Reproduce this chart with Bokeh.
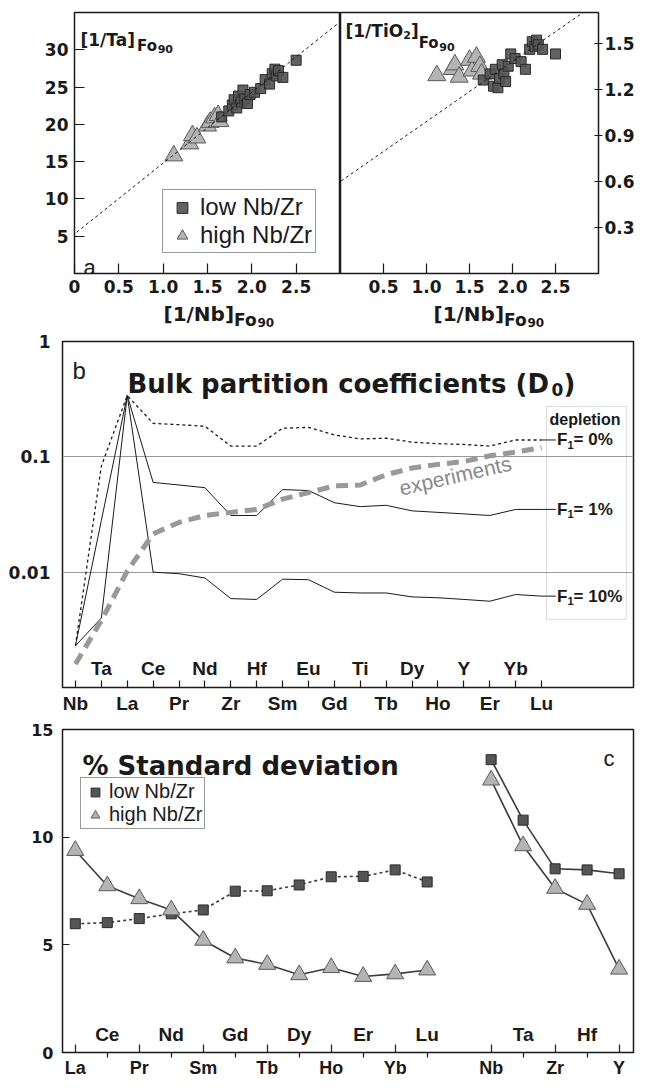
from bokeh.plotting import figure
from bokeh.models import (Range1d, FixedTicker, Label, Legend, LegendItem, Slope,
                          BoxAnnotation)
from bokeh.layouts import column, row
from bokeh.embed import file_html
from bokeh.resources import INLINE
from bokeh.core.properties import value

# ---------------- data ----------------
# Panel a : olivine Fo90-normalised inverse concentrations
high_inv_nb = [1.12, 1.30, 1.33, 1.38, 1.50, 1.53, 1.58, 1.62, 1.64]
high_inv_ta = [15.8, 17.4, 18.5, 18.2, 19.8, 20.3, 20.9, 21.2, 20.4]
high_inv_tio2 = [1.29, 1.33, 1.36, 1.28, 1.39, 1.32, 1.41, 1.35, 1.30]

low_inv_nb = [1.66, 1.74, 1.78, 1.80, 1.83, 1.85, 1.88, 1.90, 1.92, 1.95, 1.98,
              2.03, 2.10, 2.15, 2.20, 2.23, 2.26, 2.28, 2.30, 2.35, 2.50]
low_inv_ta = [21.0, 21.8, 22.6, 23.3, 22.2, 23.8, 23.0, 24.6, 23.4, 22.8, 24.0,
              24.3, 24.8, 26.0, 25.4, 26.8, 27.4, 26.5, 27.2, 26.3, 28.6]
low_inv_tio2 = [1.26, 1.30, 1.22, 1.33, 1.21, 1.27, 1.36, 1.30, 1.25, 1.35, 1.43,
                1.40, 1.38, 1.33, 1.46, 1.51, 1.48, 1.52, 1.49, 1.46, 1.43]

ta_line_intercept, ta_line_slope = 5.3, 9.5
tio2_line_intercept, tio2_line_slope = 0.60, 0.39

a_xticks = [0, 0.5, 1.0, 1.5, 2.0, 2.5]
a_xtick_labels = ["0", "0.5", "1.0", "1.5", "2.0", "2.5"]
a1_yticks = [5, 10, 15, 20, 25, 30]
a2_yticks = [0.3, 0.6, 0.9, 1.2, 1.5]

# Panel b : bulk partition coefficients
b_elements = ["Nb", "Ta", "La", "Ce", "Pr", "Nd", "Zr", "Hf", "Sm", "Eu", "Gd",
              "Ti", "Tb", "Dy", "Ho", "Y", "Er", "Yb", "Lu"]
d0_f0 = [0.0023, 0.083, 0.34, 0.195, 0.19, 0.184, 0.124, 0.124, 0.177, 0.18, 0.155,
         0.143, 0.145, 0.134, 0.13, 0.128, 0.124, 0.14, 0.14]
d0_f1 = [0.0023, 0.028, 0.34, 0.060, 0.057, 0.054, 0.031, 0.031, 0.052, 0.051, 0.040,
         0.037, 0.038, 0.034, 0.033, 0.032, 0.031, 0.035, 0.035]
d0_f10 = [0.0023, 0.004, 0.34, 0.010, 0.0097, 0.0089, 0.0059, 0.0058, 0.0087, 0.0086,
          0.0067, 0.0066, 0.0066, 0.0061, 0.0060, 0.0058, 0.0056, 0.0064, 0.0062]
d0_exp = [0.0016, 0.0038, 0.0102, 0.0215, 0.027, 0.031, 0.033, 0.035, 0.043, 0.049,
          0.056, 0.057, 0.070, 0.080, 0.086, 0.091, 0.102, 0.11, 0.12]
b_curve_labels = [("0%", d0_f0), ("1%", d0_f1), ("10%", d0_f10)]
b_yticks = [0.01, 0.1, 1.0]
b_ytick_labels = ["0.01", "0.1", "1"]

# Panel c : % standard deviation
c_ree = ["La", "Ce", "Pr", "Nd", "Sm", "Gd", "Tb", "Dy", "Ho", "Er", "Yb", "Lu"]
c_hfse = ["Nb", "Ta", "Zr", "Hf", "Y"]
sd_low_ree = [5.98, 6.03, 6.22, 6.44, 6.62, 7.49, 7.51, 7.78, 8.16, 8.18, 8.48, 7.92]
sd_high_ree = [9.38, 7.74, 7.14, 6.62, 5.21, 4.39, 4.09, 3.61, 3.94, 3.53, 3.65, 3.83]
sd_low_hfse = [13.6, 10.79, 8.53, 8.48, 8.30]
sd_high_hfse = [12.65, 9.60, 7.62, 6.88, 3.87]
c_yticks = [0, 5, 10, 15]

# ---------------- styling helpers ----------------
BOLD = "DejaVu Sans"
HELV = "Liberation Sans"
INK = "#1a1a1a"
SQ_FILL, SQ_LINE = "#555555", "#2a2a2a"
TR_FILL, TR_LINE = "#b4b4b4", "#5a5a5a"


def base_style(p):
    p.outline_line_color = INK
    p.outline_line_width = 1.5
    p.background_fill_color = "white"
    p.border_fill_color = "white"
    p.xgrid.visible = False
    p.ygrid.visible = False
    for ax in p.axis:
        ax.axis_line_color = None
        ax.major_tick_line_color = INK
        ax.minor_tick_line_color = INK
        ax.major_tick_line_width = 1.2
        ax.minor_tick_line_width = 1.2
        ax.major_label_text_color = INK
        ax.major_label_text_font_style = "bold"


def add_text(p, text, x, y, dx=0, dy=0, size="16px", font=BOLD, style="bold",
             color=INK, align="left", baseline="alphabetic", angle=0):
    p.add_layout(Label(x=x, y=y, x_offset=dx, y_offset=dy, text=text,
                       text_font=font, text_font_size=size,
                       text_font_style=style, text_color=color,
                       text_align=align, text_baseline=baseline, angle=angle))


def fo90_label(p, main, x, y, dx, dy, main_size, main_w, fo_size, nine_size,
               fo_drop=6, nine_drop=10):
    add_text(p, main, x, y, dx, dy, size=f"{main_size}px")
    add_text(p, "Fo", x, y, dx + main_w, dy - fo_drop, size=f"{fo_size}px")
    add_text(p, "90", x, y, dx + main_w + 1.37 * fo_size, dy - nine_drop,
             size=f"{nine_size}px")


A_TOP, A_FRAME, A_BOT = 12, 261, 27
A_H = A_TOP + A_FRAME + A_BOT

# ---------------- panel a (left) ----------------
pa1 = figure(width=340, height=A_H, x_range=Range1d(0, 3), y_range=Range1d(0, 35),
             output_backend="svg", toolbar_location=None,
             min_border_left=74, min_border_right=0, min_border_top=A_TOP,
             min_border_bottom=A_BOT)
base_style(pa1)
pa1.xaxis.ticker = FixedTicker(ticks=a_xticks, minor_ticks=[])
pa1.xaxis.major_label_overrides = dict(zip(a_xticks, a_xtick_labels))
pa1.yaxis.ticker = FixedTicker(ticks=a1_yticks, minor_ticks=[])
for ax in pa1.axis:
    ax.major_tick_in = 10
    ax.major_tick_out = 0
    ax.major_label_text_font = BOLD
    ax.major_label_text_font_size = "17px"
pa1.xaxis.major_label_standoff = 6
pa1.yaxis.major_label_standoff = 6

pa1.add_layout(Slope(gradient=ta_line_slope, y_intercept=ta_line_intercept,
                     line_color=INK, line_dash="3 3", line_width=1))
r_high = pa1.scatter(high_inv_nb, high_inv_ta, marker="triangle", size=18,
                     fill_color=TR_FILL, line_color=TR_LINE, line_width=1)
r_low = pa1.scatter(low_inv_nb, low_inv_ta, marker="square", size=10,
                    fill_color=SQ_FILL, line_color=SQ_LINE, line_width=1, fill_alpha=0.92)

leg_a = Legend(items=[LegendItem(label="low Nb/Zr", renderers=[r_low]),
                      LegendItem(label="high Nb/Zr", renderers=[r_high])],
               location=(88, 20), label_text_font=HELV, label_text_font_size="24px",
               label_text_color=INK, glyph_width=32, glyph_height=27, padding=3,
               spacing=0, margin=0, label_standoff=2, border_line_color="#333333",
               border_line_width=1, background_fill_alpha=1)
pa1.add_layout(leg_a)

fo90_label(pa1, "[1/Ta]", 0, 35, 6, -27, 17, 56.6, 15, 11, fo_drop=6, nine_drop=9)
add_text(pa1, "a", 0, 0, 9, 6, size="22px", font=HELV, style="normal")

# ---------------- panel a (right) ----------------
pa2 = figure(width=297, height=A_H, x_range=Range1d(0, 3), y_range=Range1d(0, 1.7),
             output_backend="svg", toolbar_location=None, y_axis_location="right",
             min_border_left=0, min_border_right=31, min_border_top=A_TOP,
             min_border_bottom=A_BOT)
base_style(pa2)
pa2.xaxis.ticker = FixedTicker(ticks=a_xticks[1:], minor_ticks=[])
pa2.xaxis.major_label_overrides = dict(zip(a_xticks, a_xtick_labels))
pa2.yaxis.ticker = FixedTicker(ticks=a2_yticks, minor_ticks=[])
for ax in pa2.axis:
    ax.major_label_text_font = BOLD
    ax.major_label_text_font_size = "17px"
pa2.xaxis.major_tick_in = 10
pa2.xaxis.major_tick_out = 0
pa2.xaxis.major_label_standoff = 6
pa2.yaxis.major_tick_in = 4
pa2.yaxis.major_tick_out = 4
pa2.yaxis.major_label_standoff = 2

pa2.add_layout(Slope(gradient=tio2_line_slope, y_intercept=tio2_line_intercept,
                     line_color=INK, line_dash="3 3", line_width=1))
pa2.scatter(high_inv_nb, high_inv_tio2, marker="triangle", size=18,
            fill_color=TR_FILL, line_color=TR_LINE, line_width=1)
pa2.scatter(low_inv_nb, low_inv_tio2, marker="square", size=10,
            fill_color=SQ_FILL, line_color=SQ_LINE, line_width=1, fill_alpha=0.92)

add_text(pa2, "[1/TiO", 0, 1.7, 5, -18, size="17px")
add_text(pa2, "2", 0, 1.7, 62.7, -22, size="11px")
add_text(pa2, "]", 0, 1.7, 70.4, -18, size="17px")
add_text(pa2, "Fo", 0, 1.7, 78.2, -30, size="15px")
add_text(pa2, "90", 0, 1.7, 78.2 + 1.37 * 15, -34, size="11px")

# ---------------- strip holding the x-axis titles of panel a ----------------
STRIP_H = 32
STRIP_L = 62
sa = figure(width=637, height=STRIP_H, x_range=Range1d(0, 1), y_range=Range1d(0, 1),
            output_backend="svg", toolbar_location=None, x_axis_location=None,
            y_axis_location=None, min_border=0, min_border_left=STRIP_L,
            min_border_right=4, min_border_top=0, min_border_bottom=0)
sa.outline_line_color = None
sa.xgrid.visible = False
sa.ygrid.visible = False
fo90_label(sa, "[1/Nb]", 0, 0, 163 - STRIP_L, 19, 20, 70.6, 17, 12, fo_drop=6, nine_drop=9)
fo90_label(sa, "[1/Nb]", 0, 0, 433 - STRIP_L, 19, 20, 70.6, 17, 12, fo_drop=6, nine_drop=9)

# ---------------- panel b ----------------
b_x = list(range(len(b_elements)))
pb = figure(width=637, height=384, x_range=Range1d(-0.5, 21.55), y_range=Range1d(0.001, 1.0),
            y_axis_type="log", output_backend="svg", toolbar_location=None,
            min_border_left=62, min_border_right=4, min_border_top=9, min_border_bottom=27)
base_style(pb)
pb.ygrid.visible = True
pb.ygrid.ticker = FixedTicker(ticks=b_yticks[:2])
pb.ygrid.grid_line_color = "#999999"
pb.ygrid.grid_line_width = 1
pb.yaxis.ticker = FixedTicker(ticks=b_yticks, minor_ticks=[])
pb.yaxis.major_label_overrides = dict(zip(b_yticks, b_ytick_labels))
pb.yaxis.major_tick_in = 0
pb.yaxis.major_tick_out = 0
pb.yaxis.major_label_text_font = BOLD
pb.yaxis.major_label_text_font_size = "17px"
pb.yaxis.major_label_standoff = 12

b_low_idx = b_x[0::2]
b_up_idx = b_x[1::2]
pb.xaxis.ticker = FixedTicker(ticks=b_low_idx, minor_ticks=b_up_idx)
pb.xaxis.major_label_overrides = {i: b_elements[i] for i in b_low_idx}
pb.xaxis.major_tick_in = 7
pb.xaxis.major_tick_out = 0
pb.xaxis.minor_tick_in = 7
pb.xaxis.minor_tick_out = 0
pb.xaxis.major_label_text_font = HELV
pb.xaxis.major_label_text_font_size = "19px"
pb.xaxis.major_label_standoff = 5
pb.text(x=b_up_idx, y=0.001, text=[b_elements[i] for i in b_up_idx], y_offset=-9,
        text_font=value(HELV), text_font_size="19px", text_font_style="bold",
        text_color=INK, text_align="center", text_baseline="bottom")

pb.line(b_x, d0_f1, line_color=INK, line_width=1)
pb.line(b_x, d0_f10, line_color=INK, line_width=1)
pb.line(b_x, d0_f0, line_color=INK, line_width=1.3, line_dash="3 3")
pb.line(b_x, d0_exp, line_color="#999999", line_width=5, line_dash="12 7")

pb.add_layout(BoxAnnotation(left=18.19, right=21.27, top=0.273, bottom=0.0039,
                            fill_color=None, line_color="#888888", line_width=1))
add_text(pb, "depletion", 18.19, 0.273, 3, -4, size="16px", font=HELV, baseline="top")
for pct, curve in b_curve_labels:
    v = curve[-1]
    pb.segment(x0=[b_x[-1]], y0=[v], x1=[18.55], y1=[v], line_color=INK, line_width=1)
    add_text(pb, "F", 18.6, v, 0, 0, size="17px", font=HELV, baseline="middle")
    add_text(pb, "1", 18.6, v, 10.4, -5, size="11px", font=HELV, baseline="middle")
    add_text(pb, "= " + pct, 18.6, v, 16.5, 0, size="17px", font=HELV, baseline="middle")

add_text(pb, "experiments", 14.67, 0.0688, 0, 0, size="21px", font=HELV, style="normal",
         color="#888888", align="center", baseline="middle", angle=0.225)
add_text(pb, "Bulk partition coefficients (D", -0.5, 1.0, 65, -42, size="26px")
add_text(pb, "0", -0.5, 1.0, 489, -48, size="17px")
add_text(pb, ")", -0.5, 1.0, 501, -42, size="26px")
add_text(pb, "b", -0.5, 1.0, 10, -29, size="24px", font=HELV, style="normal")

# ---------------- panel c ----------------
ree_x = list(range(len(c_ree)))
hfse_x = [len(c_ree) + 1 + j for j in range(len(c_hfse))]
c_names = c_ree + c_hfse
c_pos = ree_x + hfse_x
c_low_idx = [k for k in range(len(c_ree)) if k % 2 == 0] + \
            [len(c_ree) + j for j in range(len(c_hfse)) if j % 2 == 0]
c_up_idx = [k for k in range(len(c_ree)) if k % 2 == 1] + \
           [len(c_ree) + j for j in range(len(c_hfse)) if j % 2 == 1]

C_H, C_TOP, C_BOT = 364, 13, 26
c_frame_h = C_H - C_TOP - C_BOT
pc = figure(width=637, height=C_H, x_range=Range1d(-0.4, 17.45), y_range=Range1d(0, 15),
            output_backend="svg", toolbar_location=None,
            min_border_left=62, min_border_right=4, min_border_top=C_TOP, min_border_bottom=C_BOT)
base_style(pc)
pc.yaxis.ticker = FixedTicker(ticks=c_yticks, minor_ticks=[])
pc.yaxis.major_tick_in = 7
pc.yaxis.major_tick_out = 0
pc.yaxis.major_label_text_font = BOLD
pc.yaxis.major_label_text_font_size = "16px"
pc.yaxis.major_label_standoff = 9

pc.xaxis.ticker = FixedTicker(ticks=[c_pos[k] for k in c_low_idx],
                              minor_ticks=[c_pos[k] for k in c_up_idx])
pc.xaxis.major_label_overrides = {c_pos[k]: c_names[k] for k in c_low_idx}
pc.xaxis.major_tick_in = 8
pc.xaxis.major_tick_out = 0
pc.xaxis.minor_tick_in = 0
pc.xaxis.minor_tick_out = 5
pc.xaxis.major_label_text_font = HELV
pc.xaxis.major_label_text_font_size = "18px"
pc.xaxis.major_label_standoff = 0
pc.text(x=[c_pos[k] for k in c_up_idx], y=0, text=[c_names[k] for k in c_up_idx],
        y_offset=-8, text_font=value(HELV), text_font_size="19px", text_font_style="bold",
        text_color=INK, text_align="center", text_baseline="bottom")

LINE_C = "#3c3c3c"
pc.line(ree_x, sd_low_ree, line_color=LINE_C, line_width=1.6, line_dash="3 3")
pc.line(hfse_x, sd_low_hfse, line_color=LINE_C, line_width=1.6)
pc.line(ree_x, sd_high_ree, line_color=LINE_C, line_width=1.6)
pc.line(hfse_x, sd_high_hfse, line_color=LINE_C, line_width=1.6)
rc_low = pc.scatter(ree_x + hfse_x, sd_low_ree + sd_low_hfse, marker="square", size=10,
                    fill_color=SQ_FILL, line_color=SQ_LINE, line_width=1)
rc_high = pc.scatter(ree_x + hfse_x, sd_high_ree + sd_high_hfse, marker="triangle", size=17,
                     fill_color=TR_FILL, line_color=TR_LINE, line_width=1)

leg_c = Legend(items=[LegendItem(label="low Nb/Zr", renderers=[rc_low]),
                      LegendItem(label="high Nb/Zr", renderers=[rc_high])],
               location=(18, c_frame_h - 52 - 50), label_text_font=HELV,
               label_text_font_size="20px", label_text_color=INK, glyph_width=24,
               glyph_height=22, padding=2, spacing=0, margin=0, label_standoff=2,
               border_line_color="#333333", border_line_width=1, background_fill_alpha=1)
pc.add_layout(leg_c)

add_text(pc, "% Standard deviation", -0.4, 15, 20, -36, size="26px")
add_text(pc, "c", 17.45, 15, -30, -29, size="22px", font=HELV, style="normal")

layout = column(row(pa1, pa2), sa, pb, pc)
open("out.html", "w").write(file_html(layout, INLINE))
